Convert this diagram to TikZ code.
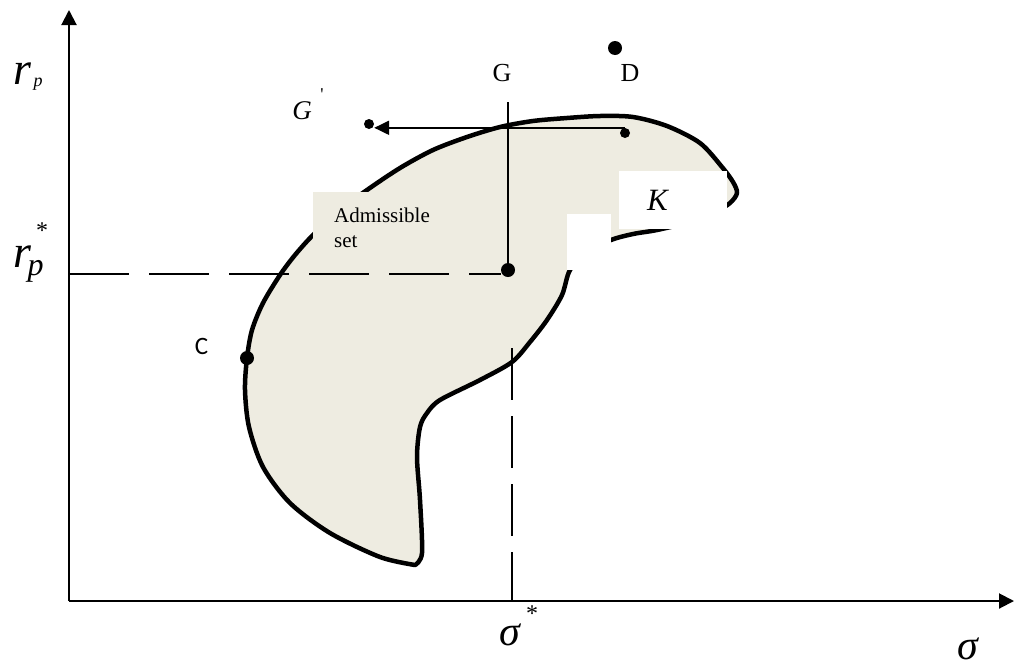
\documentclass[tikz,border=0pt]{standalone}
\usepackage{fontspec}
\setmainfont{Liberation Serif}
\newfontfamily\carlitofont{Carlito}
\usetikzlibrary{arrows.meta}
\definecolor{setfill}{HTML}{EEECE1}
\begin{document}
\begin{tikzpicture}[x=1pt,y=-1pt,
  axis/.style={line width=2pt, -{Triangle[length=15pt,width=15pt]}},
  outline/.style={line width=4.5pt, line join=round, fill=setfill},
  hdash/.style={line width=2pt, dash pattern=on 60pt off 20pt},
  vdash/.style={line width=2pt, dash pattern=on 52pt off 16pt},
  thinline/.style={line width=2pt},
  dot/.style={circle, fill=black, inner sep=0pt, minimum size=14pt},
  smalldot/.style={circle, fill=black, inner sep=0pt, minimum size=10pt},
  lbl/.style={inner sep=0pt},
]
\useasboundingbox (0,0) rectangle (1014,662);

% axes
\coordinate (O) at (69,601);
\coordinate (ytip) at (69,10);
\coordinate (xtip) at (1014,601);
\draw[axis] (O) -- (ytip);
\draw[axis] (O) -- (xtip);

% admissible set region
\draw[outline] plot[smooth, tension=0.5] coordinates {
 (415,565) (380,557) (330,533) (290,503) (263,467) (249,427) (245,390)
 (247,358) (252,330) (263,303) (280,275) (295,255) (313,235) (340,210)
 (367,190) (400,168) (433,150) (467,137) (500,127) (533,121) (567,118)
 (600,116) (633,117) (667,126) (700,143) (722,167) (733,182) (737,193)
 (730,203) (715,212) (690,222) (657,230) (633,234) (611,240) (588,252)
 (570,270) (562,295) (547,320) (530,342) (512,362) (480,380) (440,400)
 (427,413) (420,427) (417,457) (420,500) (422,553) (415,565)} -- cycle;

% label boxes
\fill[setfill] (313,192) rectangle (460,262);
\fill[white] (567,214) rectangle (611,270);
\fill[white] (619,171) rectangle (727,229);

% points
\node[dot] (G) at (508,270) {};
\node[dot] (D) at (615,48) {};
\node[dot] (C) at (247,358) {};
\node[smalldot] (A) at (625,133) {};
\node[smalldot] (Gp) at (369,124) {};

% lines
\coordinate (rstar) at (69,274);
\draw[hdash] (rstar) -- (rstar -| G.west);
\coordinate (stop) at (512,348);
\coordinate (sbot) at (512,601);
\draw[vdash] (stop) -- (sbot);
\coordinate (Gtop) at (508,102);
\draw[thinline] (Gtop) -- (G);
\draw[thinline, -{Triangle[length=15pt,width=14pt]}] (A.north) -- (A.north -| Gp.east);

% labels
\node[lbl, font=\fontsize{26}{30}\selectfont] (Glbl) at (502,73) {G};
\node[lbl, font=\fontsize{26}{30}\selectfont] (Dlbl) at (630,73) {D};
\node[lbl, font=\itshape\fontsize{27}{30}\selectfont] (Gplbl) at (302,111) {G};
\node[lbl, font=\fontsize{18}{20}\selectfont] (prime) at (322,95) {\textquotesingle};
\node[lbl, font=\itshape\fontsize{31}{34}\selectfont] (K) at (657.5,200.5) {K};
\node[lbl, font=\carlitofont\fontsize{25}{28}\selectfont] (Clbl) at (201.5,346.5) {C};
\node[lbl, anchor=base west, font=\fontsize{21}{25}\selectfont] (adm) at (334,222) {Admissible};
\node[lbl, anchor=base west, font=\fontsize{21}{25}\selectfont] (set) at (334,247) {set};

\node[lbl, font=\itshape\fontsize{46}{50}\selectfont] (r1) at (22.5,74) {r};
\node[lbl, font=\itshape\fontsize{18}{20}\selectfont] (p1) at (38,84) {p};
\node[lbl, font=\itshape\fontsize{46}{50}\selectfont] (r2) at (22.5,257) {r};
\node[lbl, font=\itshape\fontsize{32}{34}\selectfont] (p2) at (35.5,271) {p};
\node[lbl, font=\fontsize{24}{26}\selectfont] (st1) at (42,231) {*};

\node[lbl, font=\itshape\fontsize{42}{46}\selectfont] (s1) at (509.5,635) {σ};
\node[lbl, font=\fontsize{24}{26}\selectfont] (st2) at (532,614) {*};
\node[lbl, font=\itshape\fontsize{42}{46}\selectfont] (s2) at (968,649) {σ};
\end{tikzpicture}
\end{document}
